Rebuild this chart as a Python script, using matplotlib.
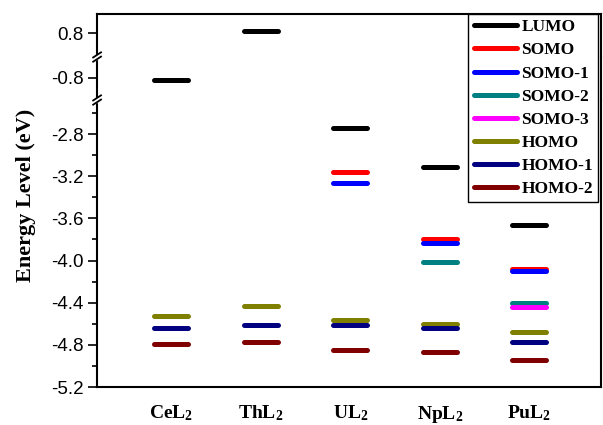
import numpy as np
import matplotlib
matplotlib.use('Agg')
import matplotlib.pyplot as plt
from matplotlib.lines import Line2D

plt.rcParams['mathtext.fontset'] = 'custom'
plt.rcParams['mathtext.bf'] = 'Liberation Serif:bold'
plt.rcParams['mathtext.rm'] = 'Liberation Serif:bold'

# data (eV); nan = level not present
molecules = ['CeL_2', 'ThL_2', 'UL_2', 'NpL_2', 'PuL_2']
levels = ['LUMO', 'SOMO', 'SOMO-1', 'SOMO-2', 'SOMO-3', 'HOMO', 'HOMO-1', 'HOMO-2']
colors = ['#000000', '#ff0000', '#0000ff', '#008080', '#ff00ff', '#808000', '#000080', '#800000']
nan = np.nan
lumo   = [-0.82, 0.82, -2.74, -3.11, -3.66]
somo   = [nan, nan, -3.16, -3.80, -4.08]
somo_1 = [nan, nan, -3.26, -3.83, -4.10]
somo_2 = [nan, nan, nan, -4.01, -4.40]
somo_3 = [nan, nan, nan, nan, -4.44]
homo   = [-4.53, -4.43, -4.56, -4.60, -4.68]
homo_1 = [-4.64, -4.61, -4.61, -4.64, -4.77]
homo_2 = [-4.79, -4.77, -4.85, -4.87, -4.94]
series = [lumo, somo, somo_1, somo_2, somo_3, homo, homo_1, homo_2]

x = np.arange(1, 6)
half_w = 0.19

fig = plt.figure(figsize=(6.03, 4.25), dpi=100)
gs = fig.add_gridspec(3, 1, height_ratios=[43, 43, 287], hspace=0,
                      left=0.161, right=0.9967, top=0.967, bottom=0.0894)
ax_top = fig.add_subplot(gs[0])
ax_mid = fig.add_subplot(gs[1])
ax_bot = fig.add_subplot(gs[2])
axes = [ax_top, ax_mid, ax_bot]

limits = [(0.575, 0.983), (-1.011, -0.604), (-5.2, -2.477)]
for ax, lim in zip(axes, limits):
    for vals, c in zip(series, colors):
        vals = np.array(vals)
        ok = ~np.isnan(vals)
        ax.hlines(vals[ok], x[ok] - half_w, x[ok] + half_w, colors=c,
                  linewidth=3.6, capstyle='round')
    ax.set_ylim(lim)
    ax.set_xlim(0.17, 5.8)
    for s in ax.spines.values():
        s.set_linewidth(1.5)
    ax.tick_params(axis='y', which='major', direction='out', length=6.5,
                   width=1.2, labelsize=13.5, pad=3)
    ax.tick_params(axis='y', which='minor', direction='out', length=3.5, width=1.2)
    ax.tick_params(axis='x', length=0)

ax_top.spines['bottom'].set_visible(False)
ax_mid.spines['top'].set_visible(False)
ax_mid.spines['bottom'].set_visible(False)
ax_bot.spines['top'].set_visible(False)
ax_top.set_xticks([])
ax_mid.set_xticks([])

ax_top.set_yticks([0.8])
ax_top.set_yticklabels(['0.8'])
ax_mid.set_yticks([-0.8])
ax_mid.set_yticklabels(['-0.8'])
ticks = [-5.2, -4.8, -4.4, -4.0, -3.6, -3.2, -2.8]
ax_bot.set_yticks(ticks)
ax_bot.set_yticklabels(['%.1f' % t for t in ticks])
ax_bot.set_yticks([-5.0, -4.6, -4.2, -3.8, -3.4, -3.0, -2.6], minor=True)
for ax in axes:
    for lab in ax.get_yticklabels():
        lab.set_family('Liberation Sans')

ax_bot.set_xticks(x)
ax_bot.set_xticklabels([r'$\mathbf{%s}$' % m for m in molecules], fontsize=14)
ax_bot.tick_params(axis='x', pad=12)

# axis break marks on the left spine
x0 = 0.161
for ax in [ax_mid, ax_bot]:
    yb = ax.get_position().y1
    fig.add_artist(plt.Rectangle((x0 - 0.004, yb - 0.004), 0.008, 0.008,
                                 color='white', transform=fig.transFigure, zorder=3))
    for dy in (-0.005, 0.005):
        fig.add_artist(Line2D([x0 - 0.0065, x0 + 0.0065],
                              [yb + dy - 0.006, yb + dy + 0.006],
                              color='black', lw=1.3, transform=fig.transFigure, zorder=4))

fig.text(0.043, 0.541, 'Energy Level (eV)', rotation=90, ha='center', va='center',
         family='Liberation Serif', weight='bold', fontsize=16)

handles = [Line2D([], [], color=c, lw=3.6, solid_capstyle='round') for c in colors]
leg = fig.legend(handles, levels, loc='upper right', bbox_to_anchor=(0.992, 0.967),
                 prop={'family': 'Liberation Serif', 'weight': 'bold', 'size': 12.5},
                 frameon=True, fancybox=False, edgecolor='black', framealpha=1,
                 handlelength=2.5, handletextpad=0.25, borderpad=0.3, labelspacing=0.4,
                 borderaxespad=0)
leg.get_frame().set_linewidth(1.0)

fig.savefig('out.png', dpi=100)
